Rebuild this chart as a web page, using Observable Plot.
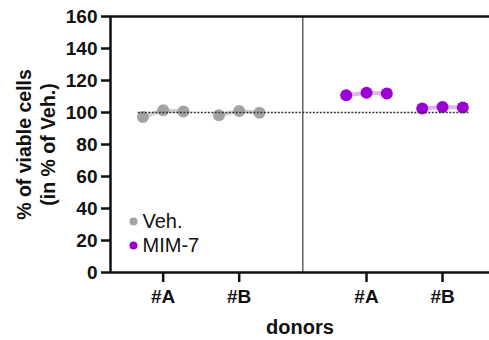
<!DOCTYPE html>
<html><head><meta charset="utf-8">
<script src="https://cdn.jsdelivr.net/npm/d3@7"></script>
<script src="https://cdn.jsdelivr.net/npm/@observablehq/plot@0.6"></script>
<style>
html,body{margin:0;padding:0;background:#fff;}
</style></head><body><div id="chart"></div>
<script>
// ---- data ----
const treatments = ["Veh.", "MIM-7"];
const donors = ["#A", "#B"];
const vehValues = [[97.2, 101.4, 100.6], [98.3, 101.0, 99.8]];
const mimValues = [[110.8, 112.3, 111.9], [102.5, 103.5, 103.1]];
const yTicks = [0, 20, 40, 60, 80, 100, 120, 140, 160];
const refValue = 100;
const yLabel = "% of viable cells\n(in % of Veh.)";
const xLabel = "donors";

// ---- styling / layout ----
const dotColors = ["#a3a3a3", "#9a00d4"];
const lineColors = ["#d2d2d2", "#ddb6f0"];
const treatmentStep = 2.675;   // distance between treatment blocks, in donor units
const repOffset = 0.267;       // spacing of replicates around donor centre
const xDomain = [-0.693, 4.293];
const font = "'Liberation Sans', Arial, sans-serif";

const allValues = [vehValues, mimValues];
const rows = [];
const centers = [];
const centerLabels = new Map();
treatments.forEach((t, ti) => {
  donors.forEach((d, di) => {
    const c = ti * treatmentStep + di;
    centers.push(c);
    centerLabels.set(c, d);
    allValues[ti][di].forEach((v, ri) => {
      rows.push({treatment: t, donor: d, group: t + d, x: c + (ri - 1) * repOffset, value: v});
    });
  });
});
const divider = (donors.length - 1 + treatmentStep) / 2;
const xs = rows.map(r => r.x);
const refX1 = d3.min(xs) - 0.06, refX2 = d3.max(xs) + 0.08;

const chart = Plot.plot({
  width: 489, height: 340,
  marginLeft: 110, marginRight: 0, marginTop: 16, marginBottom: 68,
  style: {fontFamily: font, fontWeight: "bold", fontSize: "19px", color: "#111", background: "#fff"},
  x: {type: "linear", domain: xDomain},
  y: {domain: [0, 160]},
  color: {domain: treatments, range: dotColors},
  marks: [
    Plot.ruleY([0, 160], {stroke: "#111", strokeWidth: 2.5}),
    Plot.ruleX([xDomain[0]], {stroke: "#111", strokeWidth: 2.5}),
    Plot.ruleX([divider], {y1: 0, y2: 160, stroke: "#111", strokeWidth: 1}),
    Plot.axisY(yTicks, {tickSize: 9, tickPadding: 4, strokeWidth: 2.5, stroke: "#111", fill: "#111", fontSize: 19, label: null}),
    Plot.axisX(centers, {tickSize: 10, tickPadding: 7, strokeWidth: 2.5, stroke: "#111", fill: "#111", fontSize: 19, label: null, tickFormat: d => centerLabels.get(d)}),
    ...treatments.map((t, ti) => Plot.line(rows.filter(r => r.treatment === t), {x: "x", y: "value", z: "group", stroke: lineColors[ti], strokeWidth: 4})),
    Plot.dot(rows, {x: "x", y: "value", fill: "treatment", r: 6}),
    Plot.ruleY([refValue], {x1: refX1, x2: refX2, stroke: "#333", strokeWidth: 1.3, strokeDasharray: "2,1.5"}),
    ...treatments.map((t, ti) => Plot.dot([t], {fill: d => d, r: 4, frameAnchor: "bottom-left", dx: 23, dy: -51 + 24 * ti})),
    ...treatments.map((t, ti) => Plot.text([t], {text: d => d, frameAnchor: "bottom-left", dx: 32, dy: -51 + 24 * ti, textAnchor: "start", lineAnchor: "middle", fontSize: 20, fontWeight: "normal", fill: "#111"})),
    Plot.text([yLabel], {text: d => d, frameAnchor: "left", dx: -75.5, rotate: -90, textAnchor: "middle", lineAnchor: "middle", fontSize: 19.5, lineHeight: 1.28, fill: "#111"}),
    Plot.text([xLabel], {text: d => d, frameAnchor: "bottom", dy: 55, lineAnchor: "middle", fontSize: 20, fill: "#111"})
  ]
});
document.getElementById("chart").appendChild(chart);
</script></body></html>
